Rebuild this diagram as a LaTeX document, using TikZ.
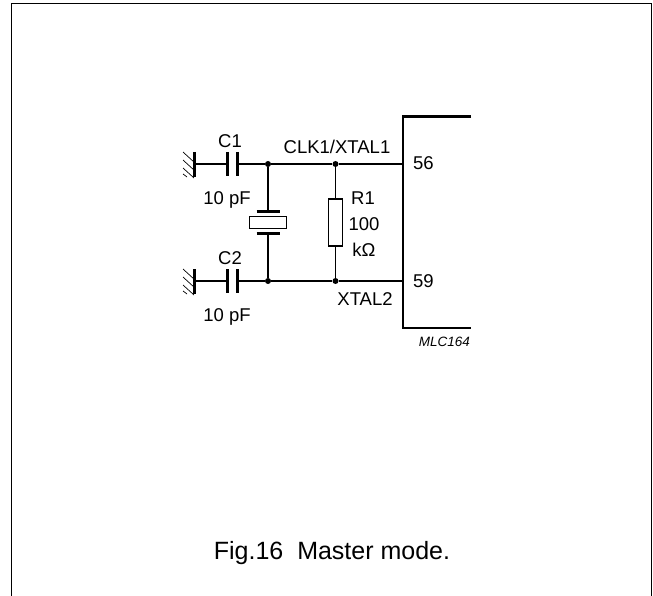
\documentclass[tikz,border=0pt]{standalone}
\usepackage{fontspec}
\setmainfont{Liberation Sans}
\usetikzlibrary{positioning}
\tikzset{
  wire/.style={draw, line width=1.2pt},
  plate/.style={draw, line width=3pt},
  icbody/.style={draw, line width=2.6pt},
  dotnode/.style={circle, fill, inner sep=0pt, minimum size=6pt},
  lbl/.style={inner sep=0pt, font=\fontsize{18.5}{22}\selectfont},
  elem/.style={draw, fill=white, line width=1.2pt, minimum width=0pt, inner sep=0pt}
}
\newcommand\gndcap[3]{
  \begin{scope}[yshift=#1]
    \coordinate (#2gnd) at (195, 0);
    \coordinate (#2pa) at (227, 0);
    \coordinate (#2pb) at (237, 0);
    \draw[plate] (227, -12) -- (227, 12);
    \draw[plate] (237, -12) -- (237, 12);
    \draw[line width=3.4pt] (194.5, -12) -- (194.5, 13);
    \foreach \i/\j/\k in {-12/195/-1, -4/195/7, 4/194/14, 10/187/13} {
      \draw[line width=0.7pt] (183, \i) -- (\j, \k);
    }
    \draw[wire] (#2gnd) -- (#2pa);
    \node[dotnode] (#2jn) at (268, 0) {};
    \draw[wire] (#2pb) -- (#2jn);
    \node[lbl] (#2name) at (230, -23) {#3};
    \node[lbl] (#2val) at (227, 35.5) {10 pF};
  \end{scope}
}
\begin{document}
\begin{tikzpicture}[x=1pt, y=-1pt]
    \useasboundingbox (0, 0) rectangle (653, 596);
    \draw[line width=1.5pt] (11.5, 596) -- (11.5, 3.5) -- (651.5, 3.5) -- (651.5, 596);

    \gndcap{-164pt}{cone}{C1}
    \gndcap{-281pt}{ctwo}{C2}

    \node[elem, minimum height=12pt, minimum width=37pt] (xtal) at (268, 222.5) {};
    \draw[plate] (256.5, 212) -- (279.5, 212);
    \draw[plate] (256.5, 233) -- (279.5, 233);
    \draw[wire] (conejn) -- (268, 212);
    \draw[wire] (268, 233) -- (ctwojn);

    \node[dotnode] (rtop) at (335.5, 164) {};
    \node[dotnode] (rbot) at (335.5, 281) {};
    \node[elem, minimum height=47pt, minimum width=14pt] (r1) at (335.5, 222.5) {};
    \draw[wire] (rtop) -- (r1);
    \draw[wire] (r1) -- (rbot);

    \draw[icbody] (471, 116.5) -- (403, 116.5) -- (403, 328) -- (471, 328);
    \coordinate (pinA) at (403, 164);
    \coordinate (pinB) at (403, 281);
    \draw[wire] (conejn) -- (rtop) -- (pinA);
    \draw[wire] (ctwojn) -- (rbot) -- (pinB);

    \node[lbl] (clk) at (337, 146.5) {CLK1/XTAL1};
    \node[lbl] (xtaltwo) at (365, 299) {XTAL2};
    \node[lbl, anchor=west] (p56) at (413, 163) {56};
    \node[lbl, anchor=west] (p59) at (413, 281) {59};
    \node[lbl] (rname) at (363, 198) {R1};
    \node[lbl] (rval) at (364, 224) {100};
    \node[lbl] (runit) at (364, 250) {kΩ};
    \node[inner sep=0pt, anchor=east, font=\fontsize{13.5}{16}\selectfont\itshape] (code) at (470, 342) {MLC164};
    \node[inner sep=0pt, font=\fontsize{25}{30}\selectfont] (caption) at (332, 553) {Fig.16\ \ Master mode.};
\end{tikzpicture}
\end{document}
